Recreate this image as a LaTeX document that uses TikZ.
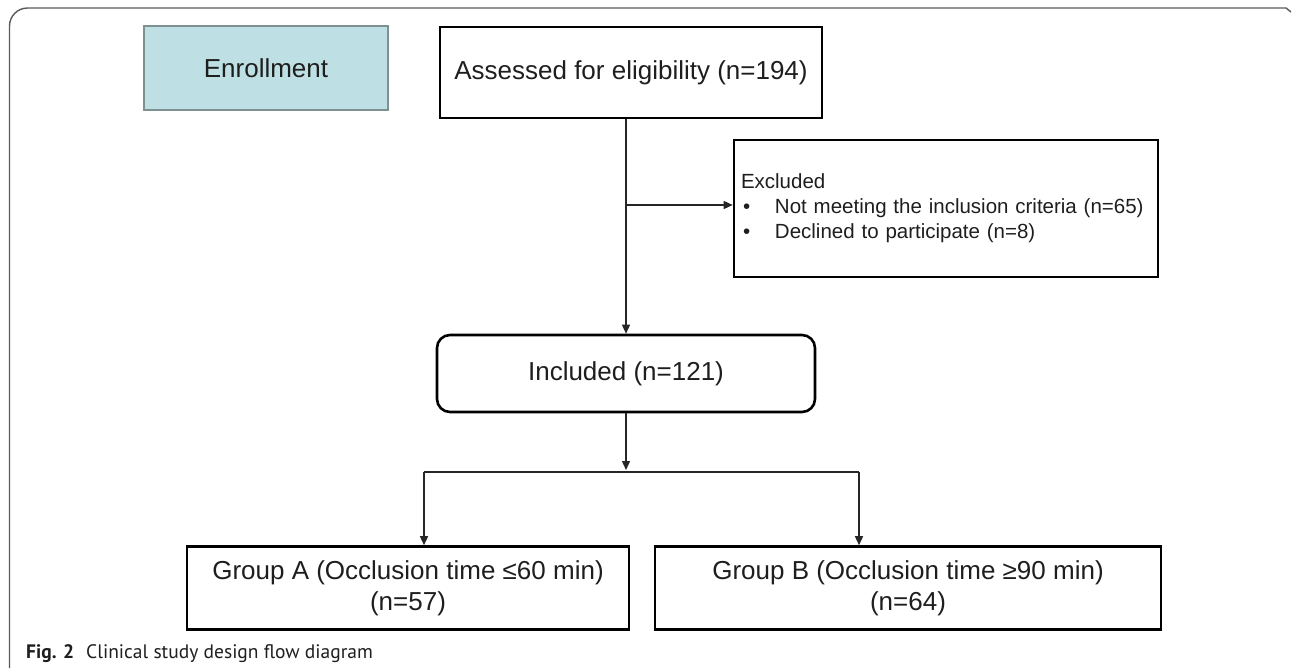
\documentclass[tikz,border=0pt]{standalone}
\usepackage{fontspec}
\setmainfont{Liberation Sans}
\newfontfamily\capfont{PT Sans}
\usetikzlibrary{arrows.meta}
\definecolor{enrfill}{RGB}{190,224,228}
\definecolor{enrline}{RGB}{125,145,145}
\definecolor{txt}{RGB}{30,30,30}
\definecolor{framec}{RGB}{90,90,90}
\begin{document}
\begin{tikzpicture}[x=1pt,y=-1pt,
  box/.style={draw=black, line width=2.6pt, text=txt, font=\fontsize{26}{31}\selectfont, inner sep=0pt, align=center},
  conn/.style={draw=black!85, line width=1.4pt, -{Triangle[length=9pt,width=8pt]}},
  link/.style={draw=black!85, line width=1.4pt}]
\useasboundingbox (0,0) rectangle (1292,670);
\draw[framec, line width=1.4pt] (9.5,668) -- (9.5,26) arc[start angle=180,end angle=270,radius=18] -- (1286,8) -- (1291,12);
\node[box, fill=enrfill, draw=enrline, line width=2.2pt, minimum width=244, minimum height=84] (enr) at (266,68) {Enrollment};
\node[box, minimum width=382, minimum height=91] (ass) at (631,72.5) {Assessed for eligibility (n=194)};
\node[box, rounded corners=13pt, minimum width=378, minimum height=77] (inc) at (626,373.5) {Included (n=121)};
\node[box, minimum width=424, minimum height=137, align=left, text width=410, font=\fontsize{20.5}{25}\selectfont] (exc) at (946,208.5) {Excluded\\\makebox[34pt][l]{\hspace{2pt}•}Not meeting the inclusion criteria (n=65)\\\makebox[34pt][l]{\hspace{2pt}•}Declined to participate (n=8)};
\node[box, minimum width=442, minimum height=83] (ga) at (408,588) {Group A (Occlusion time ≤60 min)\\(n=57)};
\node[box, minimum width=506, minimum height=83] (gb) at (908,588) {Group B (Occlusion time ≥90 min)\\(n=64)};
\coordinate (br) at (626,205);
\coordinate (j) at (626,472);
\coordinate (ja) at (424,472);
\coordinate (jb) at (859,472);
\draw[conn] (ass.south -| inc.north) -- (inc.north);
\draw[conn] (br) -- (br -| exc.west);
\draw[conn, shorten >=2pt] (inc.south) -- (j);
\draw[link] (ja) -- (jb);
\draw[conn] (ja) -- (ja |- ga.north);
\draw[conn] (jb) -- (jb |- gb.north);
\node[anchor=west, inner sep=0pt, font=\capfont\fontsize{19.5}{23}\selectfont, text=txt] (cap) at (26,654) {\textbf{Fig. 2}\hspace{12pt}Clinical study design flow diagram};
\end{tikzpicture}
\end{document}
